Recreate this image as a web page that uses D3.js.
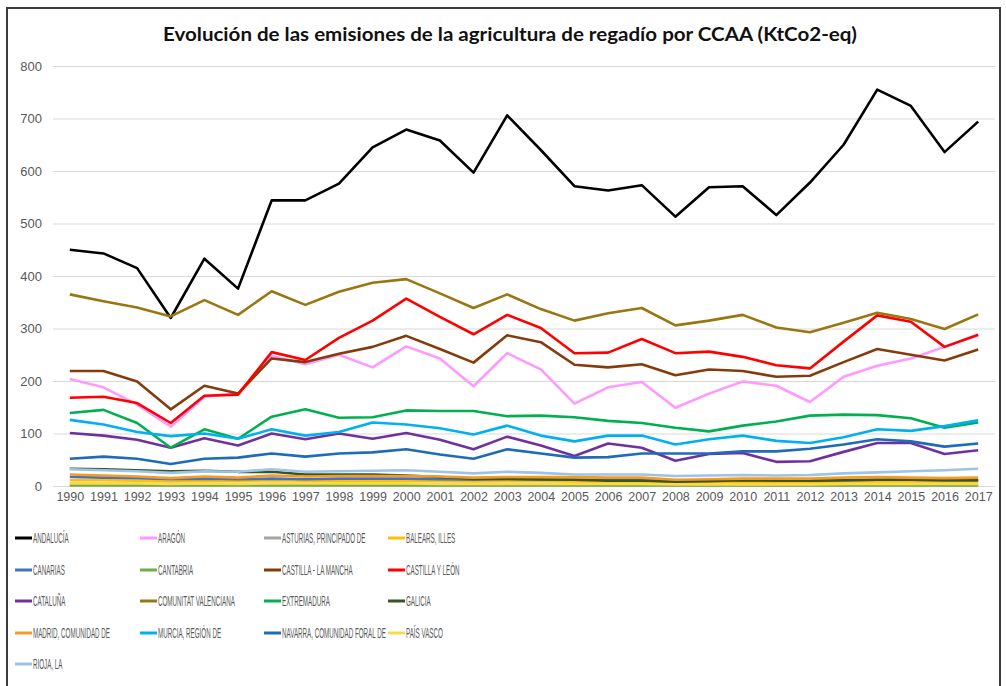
<!DOCTYPE html>
<html>
<head>
<meta charset="utf-8">
<script src="https://cdn.jsdelivr.net/npm/d3@7"></script>
<style>
  body { margin: 0; background: #fff; }
  .axis text { font-family: "Liberation Sans", Arial, sans-serif; fill: #595959; }
  .grid line { stroke: #d9d9d9; stroke-width: 1; }
  .line { fill: none; stroke-width: 2.6; stroke-linejoin: round; }
</style>
</head>
<body>
<div id="chart"></div>
<script>
var years = d3.range(1990, 2018).map(String);

var regions = ["ANDALUCÍA", "ARAGÓN", "ASTURIAS, PRINCIPADO DE", "BALEARS, ILLES",
    "CANARIAS", "CANTABRIA", "CASTILLA - LA MANCHA", "CASTILLA Y LEÓN",
    "CATALUÑA", "COMUNITAT VALENCIANA", "EXTREMADURA", "GALICIA",
    "MADRID, COMUNIDAD DE", "MURCIA, REGIÓN DE", "NAVARRA, COMUNIDAD FORAL DE", "PAÍS VASCO",
    "RIOJA, LA"];

var colors = ["#000000", "#ff99ff", "#a5a5a5", "#ffc000",
    "#4472c4", "#70ad47", "#843c0c", "#ff0000",
    "#7030a0", "#9a7611", "#00b050", "#375623",
    "#f59b23", "#00b0f0", "#1e6bb8", "#ffd84a",
    "#9dc3e6"];

var andalucia = [450, 443, 415, 320, 433, 376, 544, 544, 576, 645, 679, 658, 597, 706, 640, 571, 563, 573, 513, 569, 571, 516, 578, 650, 755, 724, 636, 694];
var aragon = [204, 188, 155, 113, 170, 176, 248, 232, 250, 226, 266, 243, 190, 253, 222, 157, 188, 198, 149, 176, 199, 191, 160, 208, 229, 243, 265, 287];
var asturias = [3, 3, 3, 2, 3, 3, 3, 3, 3, 3, 3, 2, 2, 2, 2, 2, 2, 2, 2, 2, 2, 2, 2, 2, 2, 2, 2, 2];
var baleares = [11, 11, 10, 8, 10, 9, 11, 10, 10, 10, 10, 9, 8, 9, 9, 8, 8, 8, 7, 7, 7, 7, 7, 8, 8, 8, 8, 8];
var canarias = [17, 16, 15, 13, 14, 13, 14, 13, 14, 14, 14, 13, 12, 13, 12, 12, 12, 12, 11, 11, 11, 11, 11, 11, 12, 12, 11, 11];
var cantabria = [1, 1, 1, 1, 1, 1, 1, 1, 1, 1, 1, 1, 1, 1, 1, 1, 1, 1, 1, 1, 1, 1, 1, 1, 1, 1, 1, 1];
var castillaLaMancha = [219, 219, 199, 146, 191, 176, 243, 236, 252, 265, 286, 261, 235, 287, 274, 231, 226, 232, 211, 222, 219, 208, 210, 236, 261, 250, 239, 260];
var castillaLeon = [168, 170, 158, 120, 172, 174, 255, 240, 282, 315, 357, 322, 289, 326, 301, 253, 254, 280, 253, 256, 246, 230, 224, 275, 325, 313, 265, 288];
var cataluna = [101, 96, 88, 73, 91, 77, 100, 89, 100, 90, 101, 88, 70, 94, 77, 57, 81, 73, 48, 61, 63, 46, 47, 65, 82, 82, 61, 68];
var valenciana = [365, 352, 340, 323, 354, 326, 371, 345, 370, 387, 394, 367, 339, 365, 337, 315, 329, 339, 306, 315, 326, 302, 293, 311, 330, 318, 299, 327];
var extremadura = [139, 145, 120, 73, 108, 90, 132, 146, 130, 131, 144, 143, 143, 133, 134, 131, 124, 120, 111, 104, 115, 123, 134, 136, 135, 129, 111, 121];
var galicia = [33, 32, 30, 28, 29, 27, 27, 22, 22, 22, 20, 17, 14, 14, 13, 12, 10, 10, 8, 9, 11, 10, 10, 11, 12, 12, 11, 11];
var madrid = [22, 20, 18, 15, 18, 16, 20, 18, 19, 19, 19, 18, 16, 17, 17, 17, 16, 16, 12, 13, 14, 14, 14, 16, 17, 16, 15, 16];
var murcia = [126, 117, 103, 95, 100, 90, 108, 96, 103, 121, 117, 110, 98, 115, 96, 85, 96, 96, 79, 89, 96, 86, 82, 93, 108, 105, 114, 125];
var navarra = [52, 56, 52, 42, 52, 54, 62, 56, 62, 64, 70, 60, 52, 70, 62, 54, 55, 62, 62, 62, 66, 66, 71, 79, 89, 85, 75, 81];
var paisVasco = [5, 5, 5, 4, 5, 4, 5, 5, 5, 5, 5, 4, 4, 4, 4, 4, 4, 4, 3, 3, 3, 3, 3, 4, 4, 4, 4, 4];
var rioja = [32, 30, 28, 25, 28, 27, 32, 27, 28, 29, 30, 27, 24, 27, 25, 22, 22, 22, 19, 20, 21, 20, 21, 24, 26, 28, 30, 33];

var yTicks = [0, 100, 200, 300, 400, 500, 600, 700, 800];

var seriesValues = [andalucia, aragon, asturias, baleares, canarias, cantabria,
    castillaLaMancha, castillaLeon, cataluna, valenciana, extremadura, galicia,
    madrid, murcia, navarra, paisVasco, rioja];

var series = regions.map(function (name, i) {
    return {
        name: name,
        color: colors[i],
        values: seriesValues[i].map(function (v, j) {
            return {year: years[j], value: v};
        })
    };
});

var width = 1006, height = 686;
var margin = {top: 66, left: 53, right: 11},
    plotWidth = width - margin.left - margin.right,
    plotHeight = 420;

var svg = d3.select("#chart").append("svg")
    .attr("width", width)
    .attr("height", height);

// outer frame
svg.append("rect")
    .attr("x", 7).attr("y", 8)
    .attr("width", 993).attr("height", 700)
    .attr("fill", "none")
    .attr("stroke", "#3a3a3a")
    .attr("stroke-width", 2);

var title = svg.append("text")
    .attr("x", 510)
    .attr("y", 41)
    .attr("text-anchor", "middle")
    .style("font-family", "Lato, 'Open Sans', sans-serif")
    .style("font-weight", "bold")
    .style("font-size", "19px")
    .style("fill", "#111")
    .text("Evolución de las emisiones de la agricultura de regadío por CCAA (KtCo2-eq)");
title.attr("textLength", 694).attr("lengthAdjust", "spacingAndGlyphs");

var g = svg.append("g")
    .attr("transform", "translate(" + margin.left + "," + margin.top + ")");

var x = d3.scalePoint().domain(years).range([0, plotWidth]).padding(0.5);
var y = d3.scaleLinear().domain([0, 800]).range([plotHeight, 0]);

g.append("g")
    .attr("class", "axis grid")
    .call(d3.axisLeft(y).tickValues(yTicks).tickSize(-plotWidth).tickPadding(11))
    .call(function (sel) { sel.select(".domain").remove(); })
    .selectAll("text")
    .style("font-size", "13px");

g.append("g")
    .attr("class", "axis")
    .attr("transform", "translate(0," + plotHeight + ")")
    .call(d3.axisBottom(x).tickSize(0).tickPadding(6))
    .call(function (sel) { sel.select(".domain").remove(); })
    .selectAll("text")
    .style("font-size", "12.5px");

var line = d3.line()
    .x(function (d) { return x(d.year); })
    .y(function (d) { return y(d.value); });

g.selectAll(".line")
    .data(series)
    .enter().append("path")
    .attr("class", "line")
    .attr("stroke", function (d) { return d.color; })
    .attr("d", function (d) { return line(d.values); });

// legend: 4 columns
var colX = [15, 140, 264, 388];
var rowY = [538, 570, 601, 633, 664];

var legend = svg.selectAll(".legend")
    .data(series)
    .enter().append("g")
    .attr("class", "legend")
    .attr("transform", function (d, i) {
        return "translate(" + colX[i % 4] + "," + rowY[Math.floor(i / 4)] + ")";
    });

legend.append("line")
    .attr("x1", 0).attr("x2", 17)
    .attr("stroke", function (d) { return d.color; })
    .attr("stroke-width", 3);

var labels = legend.append("text")
    .attr("x", 0)
    .attr("dy", "0.36em")
    .style("font-family", "'Liberation Sans Narrow', 'Liberation Sans', sans-serif")
    .style("font-size", "14px")
    .style("fill", "#595959")
    .text(function (d) { return d.name; });

// squeeze legend text the way the original is drawn
var ref = labels.filter(function (d) { return d.name.indexOf("NAVARRA") === 0; }).node();
var squeeze = 104 / ref.getComputedTextLength();
labels.attr("transform", "translate(18,0) scale(" + squeeze + ",1)");
</script>
</body>
</html>
